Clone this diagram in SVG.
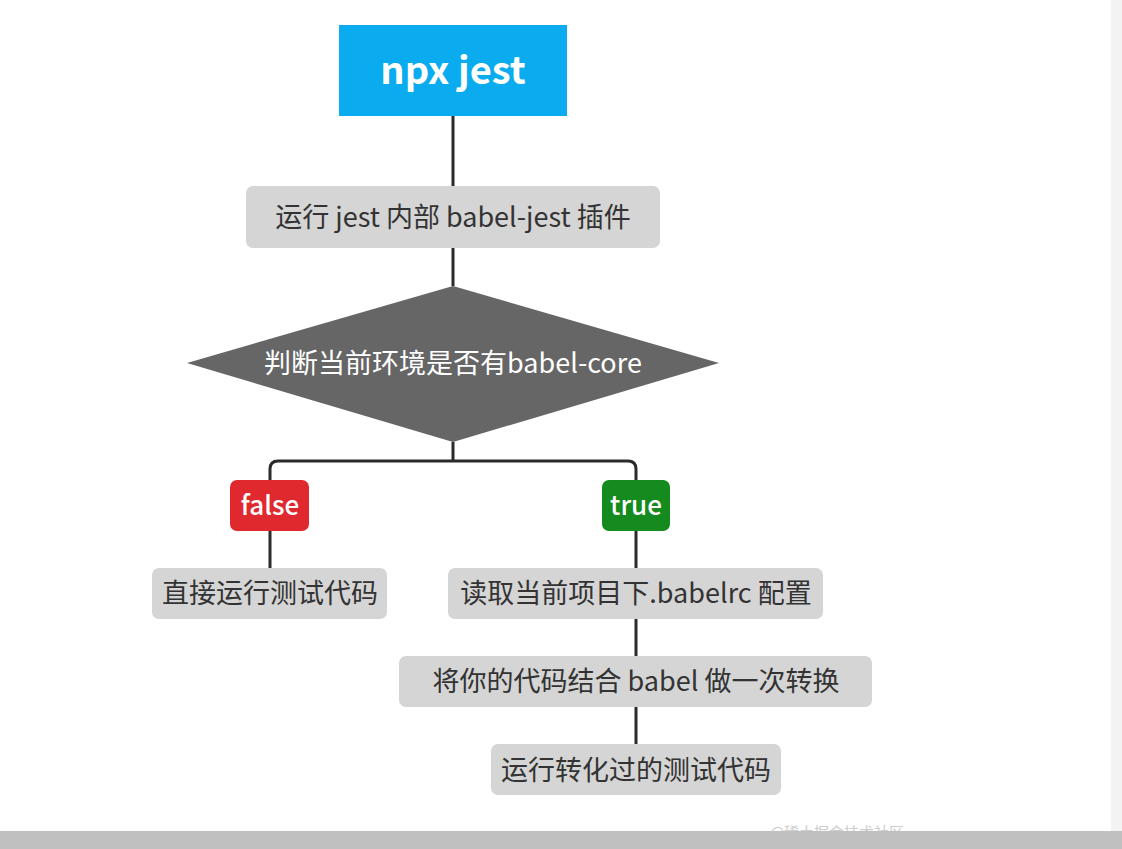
<svg xmlns="http://www.w3.org/2000/svg" width="1122" height="849" viewBox="0 0 1122 849">
<style>
text{font-family:"Noto Sans CJK SC","Noto Sans",sans-serif;text-anchor:middle}
.box{fill:#d5d5d5}
.lbl{font-size:27px;fill:#333}
.wt{fill:#fff}
.ln{stroke:#2b2b2b;stroke-width:3;fill:none}
</style>
<rect width="1122" height="849" fill="#fff"/>
<rect x="1111" y="0" width="11" height="849" fill="#f3f3f3"/>
<g id="connectors">
<path class="ln" d="M453 116V186M453 248V286M453 442V461"/>
<path class="ln" d="M270 481V469Q270 461 278 461H628Q636 461 636 469V481"/>
<path class="ln" d="M270 531V569M636 531V569M636 619V656M636 707V744"/>
</g>
<g id="start"><rect x="339" y="25" width="228" height="91" fill="#0aabef"/><text x="453" y="84" font-size="38" font-weight="bold" class="wt">npx jest</text></g>
<g id="babeljest"><rect class="box" x="246" y="186" width="414" height="62" rx="7"/><text class="lbl" x="453" y="227">运行 jest 内部 babel-jest 插件</text></g>
<g id="decision"><polygon points="187,363 453,286 719,363 453,442" fill="#666"/><text x="453" y="373" font-size="27" class="wt">判断当前环境是否有babel-core</text></g>
<g id="false"><rect x="230" y="480" width="79" height="51" rx="7" fill="#e0292e"/><text x="270" y="515" font-size="26" font-weight="500" class="wt">false</text></g>
<g id="true"><rect x="602" y="480" width="68" height="51" rx="7" fill="#148a1f"/><text x="636" y="515" font-size="26" font-weight="500" class="wt">true</text></g>
<g id="direct"><rect class="box" x="152" y="568" width="235" height="51" rx="7"/><text class="lbl" x="270" y="603">直接运行测试代码</text></g>
<g id="readrc"><rect class="box" x="448" y="568" width="375" height="51" rx="7"/><text class="lbl" x="636" y="603">读取当前项目下.babelrc 配置</text></g>
<g id="transform"><rect class="box" x="399" y="656" width="473" height="51" rx="7"/><text class="lbl" x="636" y="691">将你的代码结合 babel 做一次转换</text></g>
<g id="runconv"><rect class="box" x="491" y="744" width="290" height="51" rx="7"/><text class="lbl" x="636" y="780">运行转化过的测试代码</text></g>
<text x="837" y="838" font-size="15" fill="#ccc">@稀土掘金技术社区</text>
<rect x="0" y="831" width="1122" height="18" fill="#c0c0c0"/>
</svg>
